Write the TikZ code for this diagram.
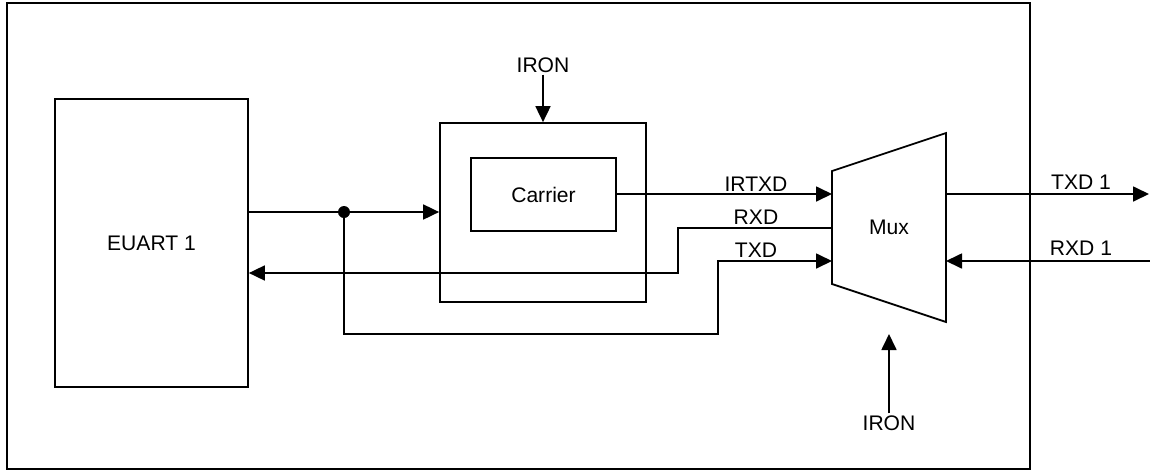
\documentclass[tikz,border=0pt]{standalone}
\usepackage{fontspec}
\setmainfont{Liberation Sans}
\usepackage{tikz}
\usetikzlibrary{arrows.meta,positioning,calc}

\tikzset{
    block/.style={draw, line width=1pt, minimum width=#1, inner sep=0pt},
    sig/.style={line width=1pt, -{Triangle[length=3.2mm, width=3mm]}},
    wire/.style={line width=1pt},
    lbl/.style={font=\fontsize{12}{14}\selectfont, inner sep=1pt},
}

\begin{document}
\begin{tikzpicture}[x=0.02cm, y=-0.02cm, font=\fontsize{12}{14}\selectfont]
    \useasboundingbox (0,0) rectangle (1150,471);
    % Outer frame
    \draw[line width=1pt] (7,3) rectangle (1030,469);

    % Blocks
    \node[block=3.86cm, minimum height=5.76cm] (euart) at (151.5,243) {EUART 1};
    \node[block=4.12cm, minimum height=3.58cm] (irbox) at (543,212.5) {};
    \node[block=2.9cm, minimum height=1.46cm] (carrier) at (543.5,194.5) {Carrier};

    % Mux (trapezoid)
    \draw[line width=1pt] (832,171) coordinate (muxtl) -- (946,133) -- (946,322) -- (832,284) coordinate (muxbl) -- cycle;
    \node (mux) at (889,227) {Mux};
    \coordinate (muxin1) at (832,194);
    \coordinate (muxin2) at (832,228);
    \coordinate (muxin3) at (832,261);
    \coordinate (muxout1) at (946,194);
    \coordinate (muxout2) at (946,261);
    \coordinate (txdend) at (1149,194);
    \coordinate (rxdend) at (1150,261);

    % EUART -> carrier box, with branch to TXD
    \coordinate (split) at (344,212);
    \draw[wire] (euart.east |- split) -- (split);
    \draw[sig] (split) -- (irbox.west |- split);
    \fill (split) circle (6);
    \draw[sig] (split) -- (344,334) -- (718,334) -- (718,261) -- (muxin3);

    % Carrier -> Mux
    \draw[sig] (carrier.east |- muxin1) -- (muxin1);
    % RXD back to EUART
    \draw[sig] (muxin2) -- (678,228) -- (678,273) -- (euart.east |- 0,273);

    % Mux <-> pins
    \draw[sig] (muxout1) -- (txdend);
    \draw[sig] (rxdend) -- (muxout2);

    % IRON controls
    \node[lbl] (irontop) at (543,65) {IRON};
    \draw[sig] (irontop.south) -- (irbox.north);
    \node[lbl] (ironbot) at (889,423) {IRON};
    \draw[sig] (ironbot.north) -- (889,334);

    % Signal labels
    \node[lbl] (irtxd) at (756,184) {IRTXD};
    \node[lbl] (rxd) at (756,217) {RXD};
    \node[lbl] (txd) at (756,250) {TXD};
    \node[lbl] (txd1) at (1081,182) {TXD 1};
    \node[lbl] (rxd1) at (1081,248) {RXD 1};
\end{tikzpicture}
\end{document}
